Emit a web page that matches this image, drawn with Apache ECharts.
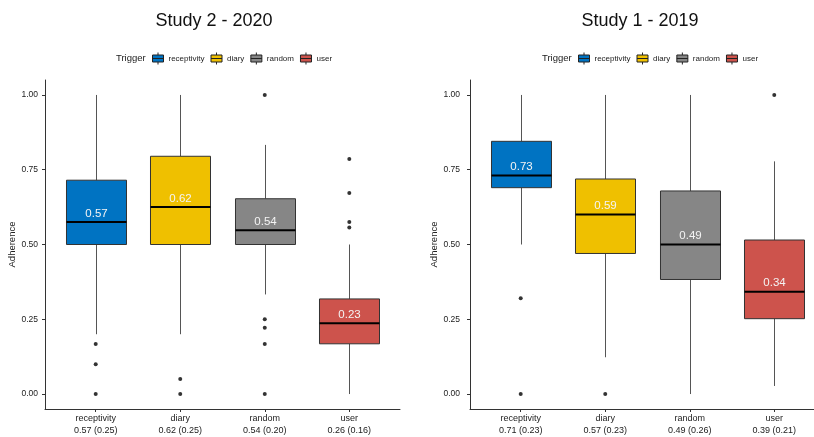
<!DOCTYPE html>
<html>
<head>
<meta charset="utf-8">
<script src="https://cdn.jsdelivr.net/npm/echarts@6/dist/echarts.min.js"></script>
<style>
  html, body { margin: 0; padding: 0; background: #fff; }
  #chart { width: 814px; height: 437px; }
</style>
</head>
<body>
<div id="chart"></div>
<script>
// categories
const triggers = ['receptivity', 'diary', 'random', 'user'];
const triggerColors = ['#0073C2', '#EFC000', '#868686', '#CD534C'];
const yTicks = [0, 0.25, 0.5, 0.75, 1];

// Study 2 - 2020 : [min, Q1, median, Q3, max] per trigger
const study2Box = [
  [0.20, 0.50, 0.575, 0.715, 1.00],
  [0.20, 0.50, 0.625, 0.795, 1.00],
  [0.333, 0.50, 0.548, 0.653, 0.833],
  [0.00, 0.168, 0.237, 0.318, 0.50]
];
const study2Outliers = [
  [0.167, 0.10, 0.0],
  [0.05, 0.0],
  [1.0, 0.25, 0.222, 0.167, 0.0],
  [0.786, 0.672, 0.575, 0.557]
];
const study2Median = ['0.57', '0.62', '0.54', '0.23'];
const study2Summary = ['0.57 (0.25)', '0.62 (0.25)', '0.54 (0.20)', '0.26 (0.16)'];

// Study 1 - 2019
const study1Box = [
  [0.50, 0.69, 0.731, 0.845, 1.00],
  [0.123, 0.47, 0.60, 0.719, 1.00],
  [0.00, 0.383, 0.50, 0.679, 1.00],
  [0.027, 0.252, 0.342, 0.515, 0.778]
];
const study1Outliers = [
  [0.32, 0.0],
  [0.0],
  [],
  [1.0]
];
const study1Median = ['0.73', '0.59', '0.49', '0.34'];
const study1Summary = ['0.71 (0.23)', '0.57 (0.23)', '0.49 (0.26)', '0.39 (0.21)'];

const FONT = 'Liberation Sans, Arial, sans-serif';
const BOX_W = 0.71;  // box width in category units

const chart = echarts.init(document.getElementById('chart'));

// draws one ggplot-like box (no whisker caps, thick median)
function makeBoxRender(medianLabels) {
  return function (params, api) {
    const x = api.value(0);
    const p = [1, 2, 3, 4, 5].map(i => api.coord([x, api.value(i)]));
    const cx = Math.round(p[0][0]) + 0.5;
    const half = api.size([BOX_W, 0])[0] / 2;
    const lineStyle = { stroke: '#555', lineWidth: 1 };
    return {
      type: 'group',
      children: [
        { type: 'line', shape: { x1: cx, y1: p[4][1], x2: cx, y2: p[3][1] }, style: lineStyle },
        { type: 'line', shape: { x1: cx, y1: p[1][1], x2: cx, y2: p[0][1] }, style: lineStyle },
        {
          type: 'rect',
          shape: { x: cx - half, y: p[3][1], width: half * 2, height: p[1][1] - p[3][1] },
          style: { fill: api.visual('color'), stroke: '#333', lineWidth: 1 }
        },
        {
          type: 'line',
          shape: { x1: cx - half, y1: p[2][1], x2: cx + half, y2: p[2][1] },
          style: { stroke: '#000', lineWidth: 2 }
        },
        {
          type: 'text',
          x: cx, y: p[2][1] - 8.5,
          style: {
            text: medianLabels[x - 1], fill: '#f4f4f4', fontSize: 11.5, fontFamily: FONT,
            align: 'center', verticalAlign: 'middle'
          }
        }
      ]
    };
  };
}

function boxSeries(panel, boxes, medianLabels) {
  return triggers.map((name, i) => ({
    type: 'custom',
    name: name,
    xAxisIndex: panel,
    yAxisIndex: panel,
    itemStyle: { color: triggerColors[i] },
    renderItem: makeBoxRender(medianLabels),
    encode: { x: 0, y: [1, 2, 3, 4, 5] },
    data: [[i + 1].concat(boxes[i])]
  }));
}

function outlierSeries(panel, outliers) {
  const pts = [];
  outliers.forEach((vals, i) => vals.forEach(v => pts.push([i + 1, v])));
  return {
    type: 'scatter',
    name: 'outliers',
    xAxisIndex: panel,
    yAxisIndex: panel,
    symbolSize: 4,
    itemStyle: { color: '#000' },
    data: pts
  };
}

function xAxisFor(panel, max, summary) {
  return {
    type: 'value',
    gridIndex: panel,
    min: 0.4,
    max: max,
    splitLine: { show: false },
    axisLine: { show: true, onZero: false, lineStyle: { color: '#333', width: 1 } },
    axisTick: { show: true, length: 3, customValues: [1, 2, 3, 4], lineStyle: { color: '#333' } },
    axisLabel: {
      customValues: [1, 2, 3, 4],
      margin: 3,
      fontSize: 9,
      lineHeight: 12.5,
      color: '#222',
      fontFamily: FONT,
      formatter: v => triggers[v - 1] + '\n' + summary[v - 1]
    }
  };
}

function yAxisFor(panel, margin) {
  return {
    type: 'value',
    gridIndex: panel,
    min: -0.05,
    max: 1.05,
    name: 'Adherence',
    nameLocation: 'middle',
    nameGap: 22,
    nameTextStyle: { fontSize: 9.5, color: '#222', fontFamily: FONT },
    splitLine: { show: false },
    axisLine: { show: true, onZero: false, lineStyle: { color: '#333', width: 1 } },
    axisTick: { show: true, length: 3, customValues: yTicks, lineStyle: { color: '#333' } },
    axisLabel: {
      customValues: yTicks,
      margin: margin,
      fontSize: 8.5,
      color: '#222',
      fontFamily: FONT,
      formatter: v => v.toFixed(2)
    }
  };
}

const boxIcon = 'path://M0,2.5L11,2.5L11,9.5L0,9.5Z M0,6L11,6 M5.5,0L5.5,2.5 M5.5,9.5L5.5,12';

function legendFor(left) {
  return {
    left: left,
    top: 52,
    padding: 0,
    data: triggers,
    icon: boxIcon,
    itemWidth: 11,
    itemHeight: 12,
    itemGap: 6,
    selectedMode: false,
    itemStyle: { borderColor: '#222', borderWidth: 1 },
    textStyle: { fontSize: 8, color: '#222', fontFamily: FONT }
  };
}

const options = {
  animation: false,
  textStyle: { fontFamily: FONT },
  title: [
    { text: 'Study 2 - 2020', left: 214, top: 12, textAlign: 'center', padding: 0,
      textStyle: { fontSize: 18, fontWeight: 'normal', color: '#111', fontFamily: FONT } },
    { text: 'Study 1 - 2019', left: 640, top: 12, textAlign: 'center', padding: 0,
      textStyle: { fontSize: 18, fontWeight: 'normal', color: '#111', fontFamily: FONT } },
    { text: 'Trigger', left: 116, top: 53, padding: 0,
      textStyle: { fontSize: 9.5, fontWeight: 'normal', color: '#222', fontFamily: FONT } },
    { text: 'Trigger', left: 542, top: 53, padding: 0,
      textStyle: { fontSize: 9.5, fontWeight: 'normal', color: '#222', fontFamily: FONT } }
  ],
  legend: [legendFor(152), legendFor(578)],
  grid: [
    { left: 45, top: 80, width: 355, bottom: 26.5 },
    { left: 470, top: 80, width: 344, bottom: 26.5 }
  ],
  xAxis: [xAxisFor(0, 4.6, study2Summary), xAxisFor(1, 4.47, study1Summary)],
  yAxis: [yAxisFor(0, 7), yAxisFor(1, 10)],
  series: [
    ...boxSeries(0, study2Box, study2Median),
    outlierSeries(0, study2Outliers),
    ...boxSeries(1, study1Box, study1Median),
    outlierSeries(1, study1Outliers)
  ]
};

chart.setOption(options);
</script>
</body>
</html>
